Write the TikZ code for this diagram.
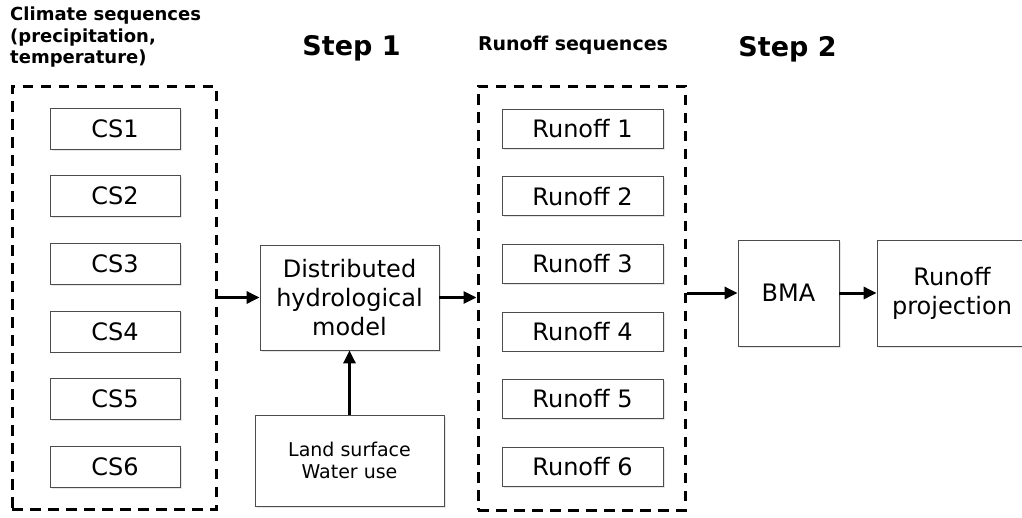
\documentclass[tikz,border=0pt]{standalone}
\usepackage{fontspec}
\setmainfont{DejaVu Sans}
\usetikzlibrary{arrows.meta,shadows}
\tikzset{>/.tip={Triangle[length=13pt,width=12pt]}}
\tikzset{
  box/.style={draw=black!70, line width=0.8pt, fill=white, inner sep=0pt, align=center,
    font=\fontsize{24}{29}\selectfont,
    drop shadow={shadow xshift=1.5pt, shadow yshift=-1.5pt, opacity=0.2}},
  group/.style={draw, line width=3pt, dash pattern=on 10.5pt off 7.5pt, inner sep=0pt},
  heading/.style={font=\bfseries\fontsize{27}{32}\selectfont, anchor=base},
  flow/.style={->, line width=3pt}
}

\begin{document}
\begin{tikzpicture}[x=1pt, y=-1pt]
 \useasboundingbox (0,0) rectangle (1022,517);

 % headings
 \node[anchor=north west, inner sep=0pt, align=left, font=\bfseries\fontsize{18}{21.5}\selectfont]
   (climtitle) at (10,7) {Climate sequences\\(precipitation,\\temperature)};
 \node[heading] (step1) at (351.5,55) {Step 1};
 \node[heading, font=\bfseries\fontsize{19}{23}\selectfont] (runtitle) at (573,50) {Runoff sequences};
 \node[heading] (step2) at (787.5,56) {Step 2};

 % dashed groups
 \node[group, minimum width=204pt, minimum height=423pt] (climate) at (114,297.5) {};
 \node[group, minimum width=207pt, minimum height=424pt] (runoff) at (581.5,298) {};

 % climate and runoff sequences
 \foreach \i in {1,...,6} {
   \node[box, minimum width=130pt, minimum height=41pt] (cs\i) at (115,61+67.6*\i) {CS\i};
   \node[box, minimum width=161pt, minimum height=39pt] (ro\i) at (582.5,61+67.6*\i) {Runoff \i};
 }

 \node[box, minimum width=179pt, minimum height=105pt] (model) at (349.5,297.5)
   {Distributed\\hydrological\\model};
 \node[box, minimum width=189pt, minimum height=91pt, font=\fontsize{19}{22}\selectfont]
   (land) at (349.5,460.5) {Land surface\\Water use};
 \node[box, minimum width=101pt, minimum height=106pt] (bma) at (788.5,293) {BMA};
 \node[box, minimum width=150pt, minimum height=106pt] (proj) at (952,293) {Runoff\\projection};

 \path[flow] (climate) edge (model);
 \path[flow] (model) edge (runoff.west |- model);
 \path[flow] (land) edge (model);
 \path[flow] (runoff.east |- bma) edge (bma);
 \path[flow] (bma) edge (proj);
\end{tikzpicture}
\end{document}
